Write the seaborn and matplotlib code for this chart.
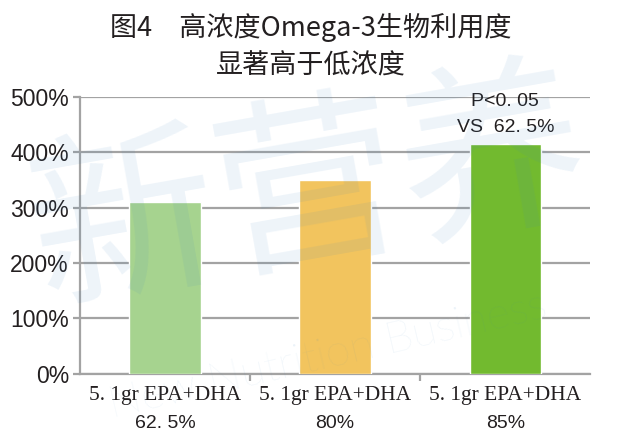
import matplotlib
matplotlib.use("Agg")
import matplotlib.pyplot as plt
import seaborn as sns
import pandas as pd
from matplotlib.transforms import blended_transform_factory

# ---- data ----
categories = ["62. 5%", "80%", "85%"]
label_line1 = ["5. 1gr EPA+DHA", "5. 1gr EPA+DHA", "5. 1gr EPA+DHA"]
values = [310, 350, 415]
colors = ["#a6d38f", "#f2c45e", "#72ba2f"]
y_ticks = [0, 100, 200, 300, 400, 500]
y_labels = ["0%", "100%", "200%", "300%", "400%", "500%"]
title = "图4　高浓度Omega-3生物利用度\n显著高于低浓度"
annotation = "P<0. 05\nVS  62. 5%"

sns.set_theme(style="white")
plt.rcParams['font.family'] = ['Liberation Sans', 'Noto Sans CJK SC', 'DejaVu Sans']

fig = plt.figure(figsize=(6.3, 4.45), dpi=100)
ax = fig.add_axes([0.127, 0.16, 0.81, 0.622])

df = pd.DataFrame({"cat": categories, "val": values})
sns.barplot(data=df, x="cat", y="val", hue="cat", palette=colors,
            legend=False, width=0.42, ax=ax, saturation=1, zorder=3)

grid_c = "#a3a3a3"
ax.set_ylim(0, 500)
ax.set_xlim(-0.5, 2.5)
ax.set_yticks(y_ticks)
ax.set_yticklabels(y_labels, fontsize=16.5, color="#231f20")
ax.yaxis.grid(True, color=grid_c, linewidth=1.6, zorder=0)
ax.set_axisbelow(True)
for s in ["top", "right"]:
    ax.spines[s].set_visible(False)
for s in ["left", "bottom"]:
    ax.spines[s].set_color(grid_c)
    ax.spines[s].set_linewidth(1.6)
ax.tick_params(axis="y", direction="out", length=5, width=1.6, color=grid_c, pad=3, left=True)
ax.set_xlabel("")
ax.set_ylabel("")

# x tick labels: two lines, different fonts
ax.set_xticks([0.5, 1.5], minor=True)
ax.tick_params(axis="x", which="minor", direction="out", length=5, width=1.6, color=grid_c, bottom=True)
ax.set_xticks(range(len(categories)))
ax.set_xticklabels(label_line1, fontsize=15.5, family="Liberation Serif", color="#231f20")
ax.tick_params(axis="x", which="major", length=0, pad=9)
trans = blended_transform_factory(ax.transData, fig.transFigure)
for i, c in enumerate(categories):
    ax.text(i, 1 - 423 / 445, c, transform=trans, ha="center", va="center",
            fontsize=14, color="#231f20")

# annotation above third bar
ax.text(2, values[2] + 14, annotation, ha="center", va="bottom",
        fontsize=14, color="#231f20", linespacing=1.75)

fig.suptitle(title, x=0.493, y=0.97, fontsize=19.5, family=['Noto Sans CJK SC', 'DejaVu Sans'],
             fontweight="medium", color="#231f20", linespacing=1.5)

# faint watermark
wm_c = "#3f86c4"
fig.text(0.49, 0.56, "新营养", fontsize=135, family=['Noto Sans CJK SC'], color=wm_c,
         alpha=0.09, ha="center", va="center", rotation=10, zorder=10)
fig.text(0.52, 0.2, "New Nutrition Business", fontsize=32, family=['Lato'], fontweight="light",
         color=wm_c, alpha=0.10, ha="center", va="center", rotation=13, zorder=10)

fig.savefig("out.png", dpi=100)
